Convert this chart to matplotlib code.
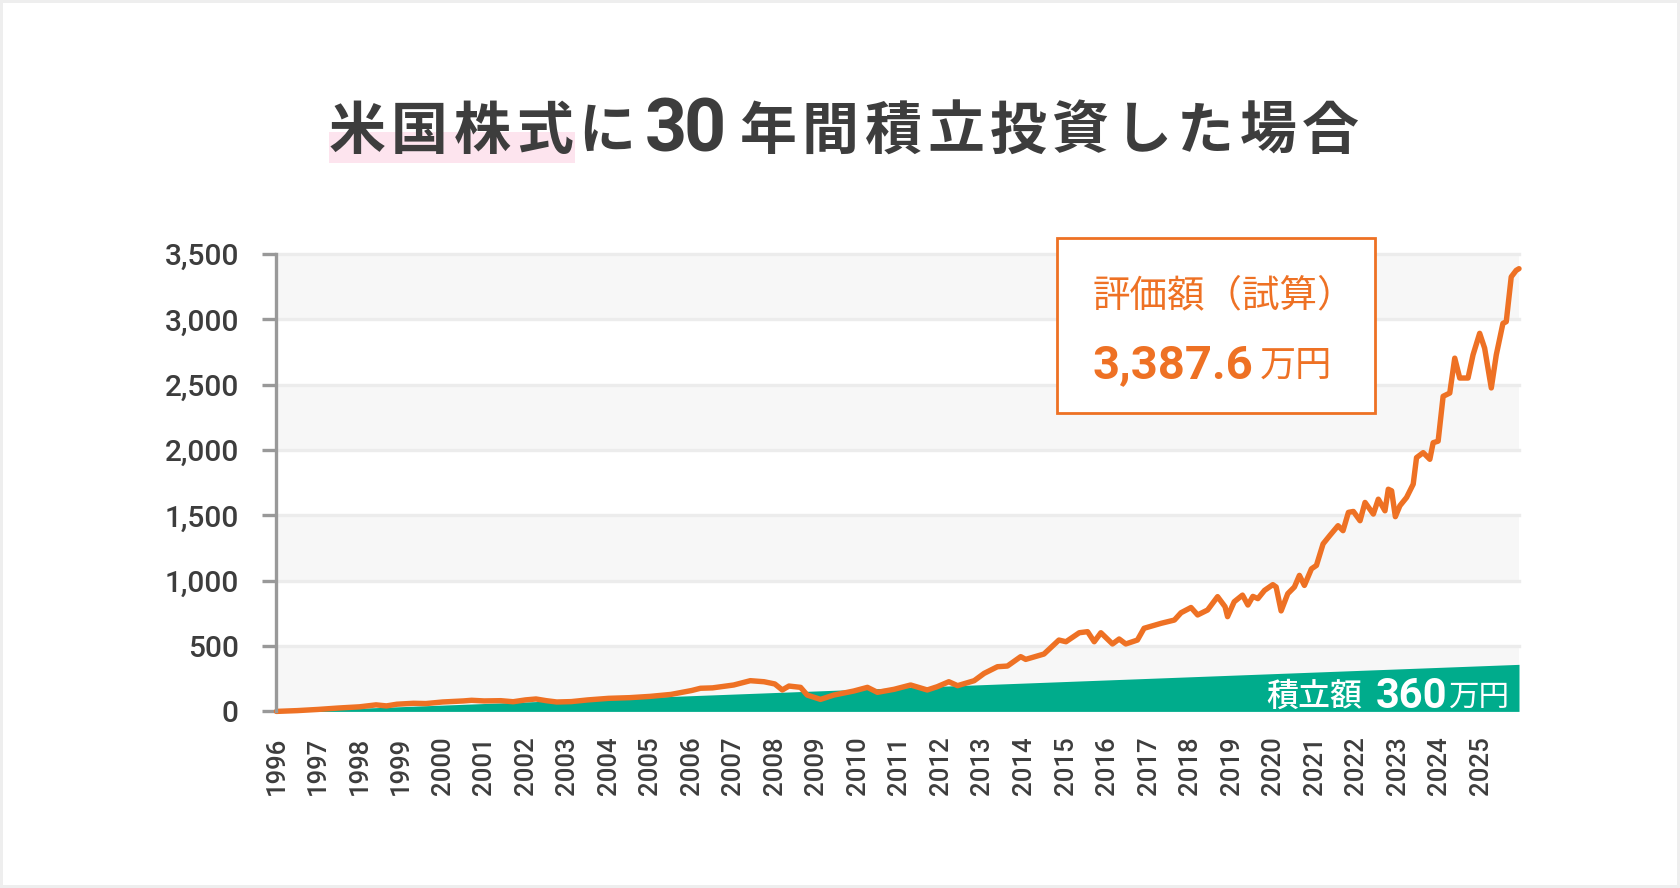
import matplotlib
matplotlib.use("Agg")
import matplotlib.pyplot as plt
from matplotlib.patches import Rectangle

W, H = 1680, 888

# --- data (decimal year, 万円) ---
years = [
    1996.00, 1996.50, 1997.00, 1997.50, 1998.00, 1998.40, 1998.65, 1998.90,
    1999.30, 1999.60, 2000.00, 2000.50, 2000.70, 2001.00, 2001.40, 2001.70,
    2002.00, 2002.25, 2002.50, 2002.75, 2003.10, 2003.50, 2004.00, 2004.50,
    2005.00, 2005.50, 2006.00, 2006.21, 2006.50, 2007.01, 2007.41, 2007.74,
    2008.00, 2008.18, 2008.34, 2008.62, 2008.78, 2009.10, 2009.42, 2009.90,
    2010.23, 2010.47, 2010.87, 2011.27, 2011.67, 2011.91, 2012.19, 2012.40,
    2012.80, 2013.04, 2013.36, 2013.60, 2013.92, 2014.04, 2014.48, 2014.84,
    2015.01, 2015.33, 2015.53, 2015.69, 2015.85, 2016.13, 2016.29, 2016.45,
    2016.73, 2016.89, 2017.30, 2017.62, 2017.78, 2018.02, 2018.18, 2018.42,
    2018.66, 2018.84, 2018.90, 2019.06, 2019.26, 2019.39, 2019.51, 2019.63,
    2019.79, 2019.99, 2020.07, 2020.19, 2020.35, 2020.51, 2020.63, 2020.75,
    2020.92, 2021.04, 2021.20, 2021.36, 2021.56, 2021.68, 2021.81, 2021.93,
    2022.09, 2022.21, 2022.41, 2022.53, 2022.69, 2022.77, 2022.85, 2022.94,
    2023.05, 2023.21, 2023.37, 2023.45, 2023.61, 2023.77, 2023.85, 2023.97,
    2024.09, 2024.25, 2024.37, 2024.49, 2024.69, 2024.81, 2024.97, 2025.09,
    2025.25, 2025.37, 2025.53, 2025.61, 2025.73, 2025.85, 2025.917,
]
values = [
    0, 6, 15, 26, 35, 50, 42, 55,
    62, 60, 72, 80, 85, 80, 82, 74,
    88, 95, 82, 72, 75, 88, 100, 105,
    115, 130, 160, 177, 180, 202, 235, 227,
    210, 164, 194, 184, 125, 92, 125, 156,
    184, 146, 169, 202, 164, 189, 227, 197,
    235, 291, 342, 347, 419, 398, 439, 546,
    533, 602, 610, 533, 602, 516, 554, 516,
    546, 636, 674, 699, 755, 795, 738, 776,
    878, 801, 725, 839, 890, 814, 880, 863,
    926, 970, 952, 769, 901, 952, 1041, 964,
    1091, 1117, 1282, 1345, 1421, 1383, 1523, 1530,
    1459, 1599, 1510, 1624, 1535, 1700, 1688, 1490,
    1574, 1637, 1739, 1942, 1980, 1929, 2056, 2068,
    2411, 2436, 2703, 2551, 2551, 2728, 2893, 2779,
    2475, 2728, 2969, 2982, 3325, 3375, 3387.6,
]
contrib_years = [1996.0, 2025.917]
contrib_values = [0, 360]

year_ticks = list(range(1996, 2026))
y_ticks = [0, 500, 1000, 1500, 2000, 2500, 3000, 3500]

title_left = "米国株式に"
title_num = "30"
title_right = "年間積立投資した場合"

ORANGE = "#ee7124"
GREEN = "#00ac8c"
TEXT = "#3d3d3d"
JP = ["Noto Sans CJK JP", "DejaVu Sans"]
NUM = ["Roboto", "DejaVu Sans"]


def fx(px):
    return px / W


def fy(py):
    return 1 - py / H


fig = plt.figure(figsize=(16.8, 8.88), dpi=100)
fig.patch.set_facecolor("white")

ax = fig.add_axes([fx(276.4), fy(711.4), (1519 - 276.4) / W, (711.4 - 254) / H])
ax.set_xlim(contrib_years[0], contrib_years[-1])
ax.set_ylim(0, 3500)

# alternating bands + grid
for i, lo in enumerate(y_ticks[:-1]):
    if i % 2 == 0:
        ax.axhspan(lo, lo + 500, color="#f7f7f7", lw=0, zorder=0)
for v in y_ticks[1:]:
    ax.axhline(v, color="#ececec", lw=2.4, zorder=1, clip_on=False)

ax.fill_between(contrib_years, 0, contrib_values, color=GREEN, lw=0, zorder=2)
ax.plot(years, values, color=ORANGE, lw=3.9, solid_joinstyle="round",
        solid_capstyle="round", zorder=4, clip_on=False)

for s in ["top", "right", "bottom"]:
    ax.spines[s].set_visible(False)
ax.spines["left"].set_color("#999999")
ax.spines["left"].set_linewidth(2.4)
ax.spines["left"].set_zorder(5)

ax.set_yticks(y_ticks)
ax.set_yticklabels([f"{v:,}" for v in y_ticks])
ax.tick_params(axis="y", length=10, width=2.4, color="#999999", pad=17,
               labelsize=21.5, labelcolor=TEXT)
ax.set_xticks(year_ticks)
ax.set_xticklabels([str(y) for y in year_ticks], rotation=90)
ax.tick_params(axis="x", length=0, pad=18, labelsize=18.5, labelcolor=TEXT)
for lab in ax.get_xticklabels() + ax.get_yticklabels():
    lab.set_family(NUM)
    lab.set_weight("medium")

# green label
fig.text(fx(1266), fy(706), "積立額", ha="left", va="baseline", fontsize=23,
         color="white", family=JP, weight="medium", zorder=6)
fig.text(fx(1376), fy(708), "360", ha="left", va="baseline", fontsize=30,
         color="white", family=NUM, weight="bold", zorder=6)
fig.text(fx(1449), fy(706), "万円", ha="left", va="baseline", fontsize=22,
         color="white", family=JP, zorder=6)

# value box
fig.add_artist(Rectangle((fx(1057), fy(413)), (1375 - 1057) / W, (413 - 238) / H,
                         transform=fig.transFigure, facecolor="white",
                         edgecolor=ORANGE, lw=2, zorder=3))
fig.text(fx(1224), fy(296), "評価額（試算）", ha="center", va="center", fontsize=27,
         color=ORANGE, family=JP, zorder=6)
fig.text(fx(1093), fy(378), "3,387.6", ha="left", va="baseline", fontsize=34,
         color=ORANGE, family=NUM, weight="bold", zorder=6)
fig.text(fx(1260), fy(376), "万円", ha="left", va="baseline", fontsize=26,
         color=ORANGE, family=JP, zorder=6)

# title with pink marker under the first four characters
fig.add_artist(Rectangle((fx(329), fy(163)), (575 - 329) / W, (163 - 132) / H,
                         transform=fig.transFigure, facecolor="#fde4ee",
                         edgecolor="none", zorder=1))
pitch = 62.5
for i, ch in enumerate(title_left):
    fig.text(fx(357 + i * pitch), fy(148.5), ch, ha="center", va="baseline",
             fontsize=41, weight="bold", family=JP, color=TEXT, zorder=6)
for i, ch in enumerate(title_num):
    fig.text(fx(666 + i * 39), fy(152), ch, ha="center", va="baseline",
             fontsize=53, weight="bold", family=NUM, color=TEXT, zorder=6)
for i, ch in enumerate(title_right):
    fig.text(fx(768 + i * pitch), fy(148.5), ch, ha="center", va="baseline",
             fontsize=41, weight="bold", family=JP, color=TEXT, zorder=6)

# light frame around the picture
fig.add_artist(Rectangle((0, 0), 1, 1, transform=fig.transFigure, fill=False,
                         edgecolor="#eeeeee", lw=4.3, zorder=10))

fig.savefig("out.png", dpi=100)
